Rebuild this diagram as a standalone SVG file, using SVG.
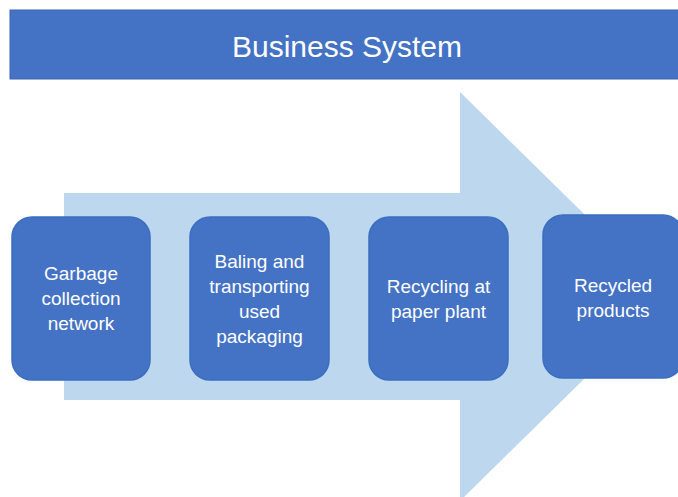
<svg xmlns="http://www.w3.org/2000/svg" width="678" height="497" viewBox="0 0 678 497">
<style>
.box{fill:#4472C4;stroke:#3A6FC0;stroke-width:1.5}
.t{font-family:"Liberation Sans",Arial,sans-serif;font-size:19px;fill:#FFFFFF;text-anchor:middle}
.title{font-family:"Liberation Sans",Arial,sans-serif;font-size:30px;fill:#FFFFFF;text-anchor:middle}
</style>
<rect width="678" height="497" fill="#FFFFFF"/>
<g id="header">
<rect x="10" y="10" width="680" height="69" fill="#4472C4" stroke="#3A64AE" stroke-width="1"/>
<text class="title" x="347" y="57">Business System</text>
</g>
<g id="arrow">
<polygon points="64,193 460,193 460,92 668,296.5 460,501 460,400 64,400" fill="#BDD7EE"/>
</g>
<g id="connectors"></g>
<g id="node1">
<rect class="box" x="12" y="217" width="138" height="163" rx="20"/>
<text class="t" x="81" y="280">Garbage</text>
<text class="t" x="81" y="305">collection</text>
<text class="t" x="81" y="330">network</text>
</g>
<g id="node2">
<rect class="box" x="190" y="217" width="139" height="163" rx="20"/>
<text class="t" x="259.5" y="268">Baling and</text>
<text class="t" x="259.5" y="293">transporting</text>
<text class="t" x="259.5" y="318">used</text>
<text class="t" x="259.5" y="343">packaging</text>
</g>
<g id="node3">
<rect class="box" x="369" y="217" width="139" height="163" rx="20"/>
<text class="t" x="438.5" y="293">Recycling at</text>
<text class="t" x="438.5" y="318">paper plant</text>
</g>
<g id="node4">
<rect class="box" x="543" y="215" width="140" height="163" rx="20"/>
<text class="t" x="613" y="292">Recycled</text>
<text class="t" x="613" y="317">products</text>
</g>
</svg>
